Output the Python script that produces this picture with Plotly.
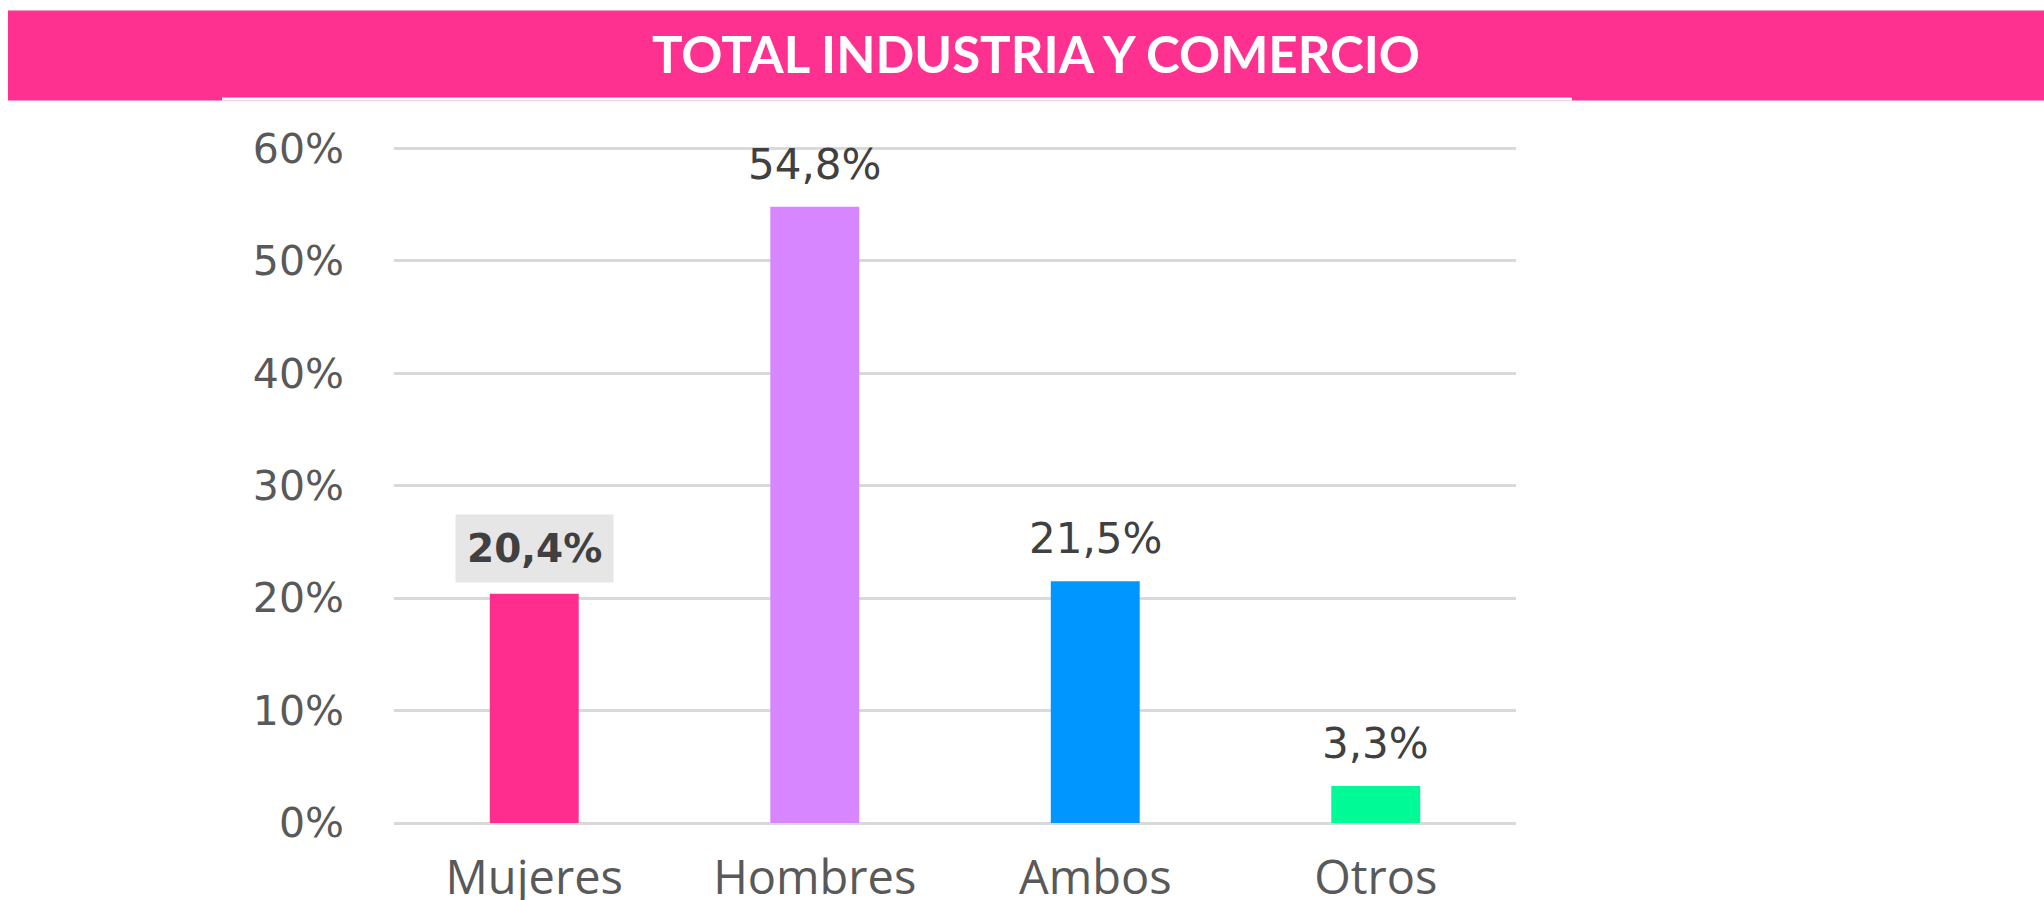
import plotly.graph_objects as go

# data
categories = ["Mujeres", "Hombres", "Ambos", "Otros"]
values = [20.4, 54.8, 21.5, 3.3]
value_labels = ["20,4%", "54,8%", "21,5%", "3,3%"]
bar_colors = ["#ff2e8e", "#d786ff", "#0096ff", "#00fa96"]
y_ticks = [0, 10, 20, 30, 40, 50, 60]
y_tick_labels = ["0%", "10%", "20%", "30%", "40%", "50%", "60%"]
title_text = "TOTAL INDUSTRIA Y COMERCIO"

W, H = 2044, 900
Y_MAX = 60.3
# plot area in pixels (0 at 823, 60 at 148)
PL, PR, PB = 394, 1516, 823
PT = PB - Y_MAX * (823 - 148) / 60


def px_x(x):
    return (x - PL) / (PR - PL)


def px_y(y):
    return (PB - y) / (PB - PT)


fig = go.Figure()
fig.add_trace(
    go.Bar(
        x=categories,
        y=values,
        marker=dict(color=bar_colors, line=dict(width=0)),
        hoverinfo="skip",
    )
)

for i, (cat, val, lab) in enumerate(zip(categories, values, value_labels)):
    if i == 0:
        # highlighted label
        fig.add_annotation(
            x=cat, y=val, text="<b>" + lab + "</b>", showarrow=False,
            yanchor="bottom", yshift=11, bgcolor="#e6e6e6", borderpad=11,
            font=dict(family="DejaVu Sans", size=39, color="#404040"),
        )
    else:
        fig.add_annotation(
            x=cat, y=val, text=lab, showarrow=False,
            yanchor="bottom", yshift=16,
            font=dict(family="DejaVu Sans", size=42, color="#404040"),
        )

# pink header band
fig.add_shape(
    type="rect", xref="paper", yref="paper",
    x0=px_x(8), x1=px_x(2050), y0=px_y(100), y1=px_y(10),
    fillcolor="#ff3190", line=dict(width=0), layer="below",
)
fig.add_shape(
    type="rect", xref="paper", yref="paper",
    x0=px_x(222), x1=px_x(1572), y0=px_y(100), y1=px_y(97),
    fillcolor="white", line=dict(width=0), layer="below",
)

fig.update_layout(
    width=W, height=H,
    margin=dict(l=PL, r=W - PR, t=PT, b=H - PB, autoexpand=False),
    paper_bgcolor="white", plot_bgcolor="white",
    showlegend=False,
    bargap=0.683,
    title=dict(
        text="<b>" + title_text + "</b>",
        x=1036 / W, xanchor="center", y=1 - 55 / H, yanchor="middle",
        font=dict(family="Lato", size=51, color="white"),
    ),
)
fig.update_xaxes(
    showline=False, showgrid=False, ticks="",
    tickfont=dict(family="Open Sans", size=47, color="#595959"),
    ticklabelstandoff=23,
)
fig.update_yaxes(
    range=[0, Y_MAX], tickvals=y_ticks, ticktext=y_tick_labels,
    showgrid=True, gridcolor="#d9d9d9", gridwidth=3,
    zeroline=True, zerolinecolor="#d9d9d9", zerolinewidth=3,
    showline=False, ticks="",
    tickfont=dict(family="DejaVu Sans", size=41, color="#595959"),
    ticklabelstandoff=49,
)

fig.write_html(
    "out.html",
    config={"displayModeBar": False},
    post_script="document.body.style.margin='0';",
)
